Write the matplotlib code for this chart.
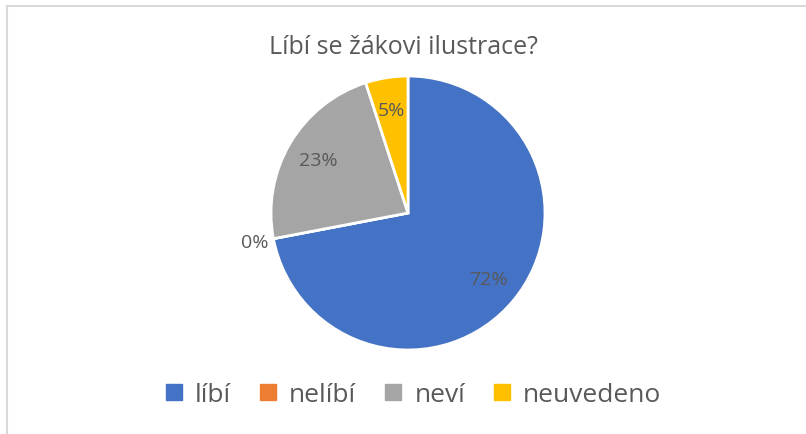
import numpy as np
import matplotlib.pyplot as plt
from matplotlib.lines import Line2D

# Data
labels = ['líbí', 'nelíbí', 'neví', 'neuvedeno']
values = [72, 0, 23, 5]
colors = ['#4472C4', '#ED7D31', '#A5A5A5', '#FFC000']
title = 'Líbí se žákovi ilustrace?'

plt.rcParams['font.family'] = ['Open Sans', 'DejaVu Sans']
txt = '#595959'

W, H = 806, 435
fig = plt.figure(figsize=(W / 100, H / 100), dpi=100)

# pie axes placed in pixels
cx, cy, r = 408, 214, 137
ax = fig.add_axes([(cx - r) / W, (H - cy - r) / H, 2 * r / W, 2 * r / H])
wedges, _ = ax.pie(values, colors=colors, startangle=90, counterclock=False,
                   wedgeprops=dict(edgecolor='white', linewidth=2))
ax.set_xlim(-1, 1)
ax.set_ylim(-1, 1)
ax.set_aspect('equal')
ax.axis('off')

# percentage labels
for w, v in zip(wedges, values):
    ang = np.deg2rad((w.theta1 + w.theta2) / 2)
    d = 0.76 if v > 0 else 1.14
    ax.text(d * np.cos(ang), d * np.sin(ang), f'{v}%', ha='center', va='center',
            fontsize=14, color=txt, clip_on=False)

fig.text(0.5, 1 - 47 / H, title, ha='center', va='center', fontsize=18, color=txt)

handles = [Line2D([], [], marker='s', linestyle='none', markersize=11,
                  markerfacecolor=c, markeredgecolor=c) for c in colors]
fig.legend(handles, labels, loc='center', bbox_to_anchor=(0.51, 1 - 396 / H),
           ncol=4, frameon=False, fontsize=19, labelcolor=txt,
           handletextpad=0.3, columnspacing=0.9, handlelength=1)

# chart border (top and left visible)
fig.add_artist(Line2D([7 / W, 1], [1 - 7 / H] * 2, color='#D9D9D9', lw=1.5))
fig.add_artist(Line2D([7 / W] * 2, [0, 1 - 7 / H], color='#D9D9D9', lw=1.5))

fig.savefig('out.png', dpi=100)
